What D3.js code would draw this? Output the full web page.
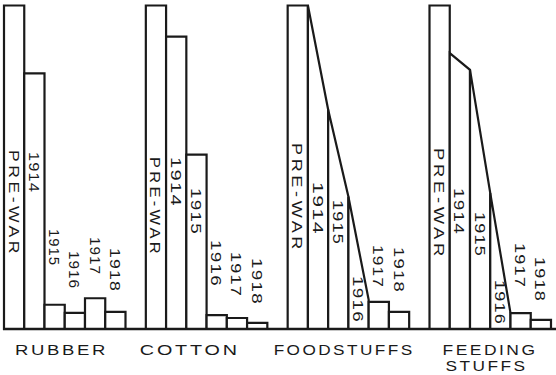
<!DOCTYPE html>
<html>
<head>
<meta charset="utf-8">
<script src="https://cdn.jsdelivr.net/npm/d3@7/dist/d3.min.js"></script>
<style>
  html, body { margin: 0; padding: 0; background: #fff; }
  svg { display: block; }
  text { font-family: "Liberation Sans", Arial, sans-serif; fill: #1a1a1a; }
</style>
</head>
<body>
<svg id="chart" width="556" height="375"></svg>
<script>
// Commodities and periods
const categories = ["RUBBER", "COTTON", "FOODSTUFFS", "FEEDING STUFFS"];
const periods = ["PRE-WAR", "1914", "1915", "1916", "1917", "1918"];

// Level of each period, pre-war = 100 (end-of-period level for sloped bars)
const rubber = [100, 79.0, 7.5, 5.0, 9.5, 5.3];
const cotton = [100, 90.4, 53.9, 4.3, 3.4, 1.9];
const foodstuffs = [100, 67.8, 40.9, 9.0, 8.4, 5.3];
const feedingStuffs = [100, 80.1, 42.0, 4.9, 4.9, 2.8];

// Start-of-period levels for years drawn as a running decline (null = flat bar)
const rubberStart = [null, null, null, null, null, null];
const cottonStart = [null, null, null, null, null, null];
const foodstuffsStart = [null, 100, 67.8, 40.9, null, null];
const feedingStuffsStart = [null, 85.3, 80.1, 42.0, null, null];

const seriesEnd = [rubber, cotton, foodstuffs, feedingStuffs];
const seriesStart = [rubberStart, cottonStart, foodstuffsStart, feedingStuffsStart];

// Layout: vertical extent of each rotated period label, and category label placement
const labelSpans = [
  [[150, 257], [152, 193], [229, 266], [251, 289], [237, 275], [248, 292]],
  [[157, 257], [157, 207], [188, 235], [240, 287], [252, 297], [258, 305]],
  [[143, 253], [182, 235], [200, 245], [276, 323], [245, 288], [247, 293]],
  [[148, 260], [188, 235], [212, 257], [280, 325], [243, 288], [257, 302]]
];
const categoryLines = [["RUBBER"], ["COTTON"], ["FOODSTUFFS"], ["FEEDING", "STUFFS"]];
const categoryLayout = [
  [{dx: 11, len: 93}],
  [{dx: -6, len: 100}],
  [{dx: -14, len: 141}],
  [{dx: 13, len: 95}, {dx: 16, len: 82}]
];

const svg = d3.select("#chart");
const baseY = 329;

const x = d3.scaleBand().domain(categories).range([4, 551]).paddingInner(0.1434).paddingOuter(0);
const xi = d3.scaleBand().domain(periods).range([0, x.bandwidth()]).padding(0);
const y = d3.scaleLinear().domain([0, 100]).range([baseY, 5.5]);

const groups = svg.selectAll("g.group")
  .data(categories.map((c, i) => ({ name: c, i })))
  .join("g")
  .attr("class", "group")
  .attr("transform", d => `translate(${x(d.name)},0)`);

// Bars: flat rectangles, or trapezoids whose top falls from start to end level
groups.each(function (g) {
  const sel = d3.select(this);
  const bars = periods.map((p, j) => ({
    p, j,
    end: seriesEnd[g.i][j],
    start: seriesStart[g.i][j] == null ? seriesEnd[g.i][j] : seriesStart[g.i][j]
  }));
  sel.selectAll("path.bar")
    .data(bars)
    .join("path")
    .attr("class", "bar")
    .attr("d", d => {
      const x0 = xi(d.p), x1 = xi(d.p) + xi.bandwidth();
      return `M${x0},${y(0)}L${x0},${y(d.start)}L${x1},${y(d.end)}L${x1},${y(0)}Z`;
    })
    .attr("fill", "#fff")
    .attr("stroke", "#1a1a1a")
    .attr("stroke-width", 2.2)
    .attr("stroke-linejoin", "miter");

  sel.selectAll("text.period")
    .data(bars)
    .join("text")
    .attr("class", "period")
    .attr("transform", d => `translate(${xi(d.p) + xi.bandwidth() / 2},${labelSpans[g.i][d.j][0]}) rotate(90)`)
    .attr("dominant-baseline", "central")
    .attr("text-anchor", "start")
    .attr("font-size", 15)
    .attr("letter-spacing", d => d.p.length > 4 ? 3 : 1)
    .attr("textLength", d => labelSpans[g.i][d.j][1] - labelSpans[g.i][d.j][0])
    .attr("lengthAdjust", "spacingAndGlyphs")
    .text(d => d.p);

  sel.selectAll("text.category")
    .data(categoryLines[g.i].map((t, k) => ({ t, k })))
    .join("text")
    .attr("class", "category")
    .attr("x", d => categoryLayout[g.i][d.k].dx)
    .attr("y", d => 355 + d.k * 16)
    .attr("font-size", 14)
    .attr("letter-spacing", 2)
    .attr("textLength", d => categoryLayout[g.i][d.k].len)
    .attr("lengthAdjust", "spacingAndGlyphs")
    .text(d => d.t);
});

// Common base line
svg.append("line")
  .attr("x1", 3).attr("x2", 556)
  .attr("y1", baseY).attr("y2", baseY)
  .attr("stroke", "#1a1a1a")
  .attr("stroke-width", 2.6);
</script>
</body>
</html>
